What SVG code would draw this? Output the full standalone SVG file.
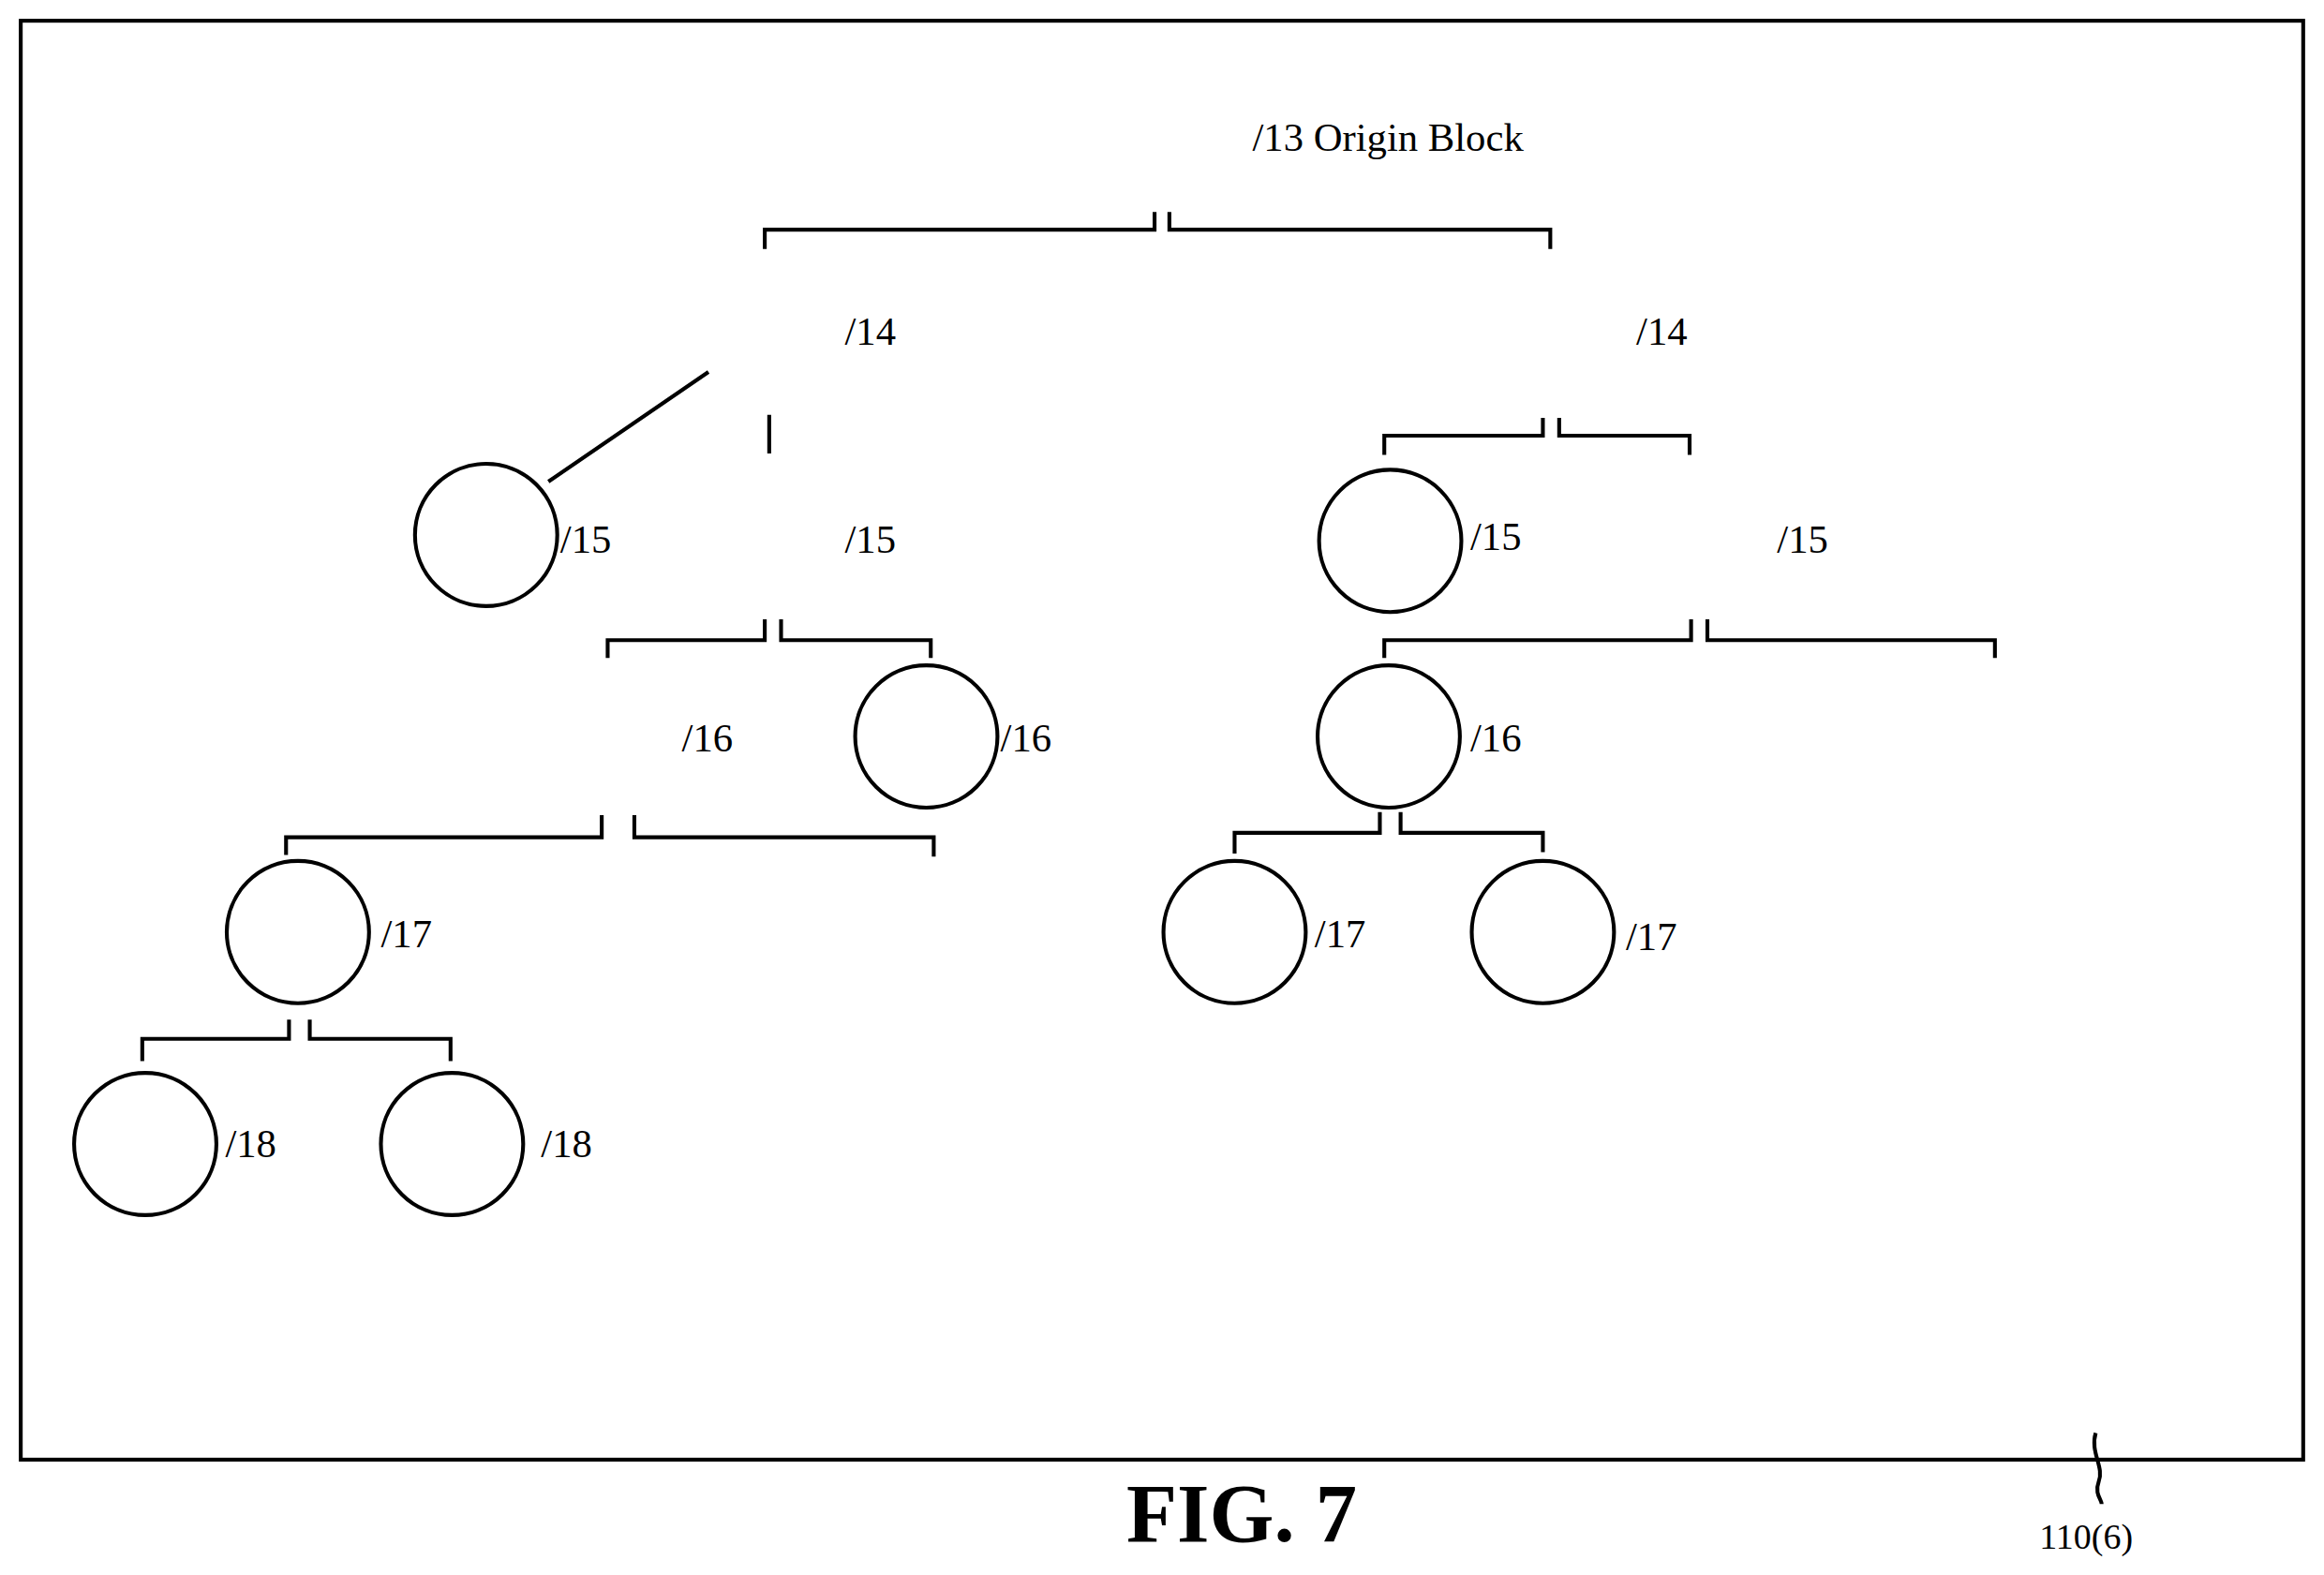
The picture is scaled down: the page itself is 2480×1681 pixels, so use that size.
<svg xmlns="http://www.w3.org/2000/svg" width="2480" height="1681" viewBox="0 0 2480 1681">
<style>
.l{fill:none;stroke:#000;stroke-width:2.6}
.c{fill:#fff;stroke:#000;stroke-width:2.6}
text{font-family:"Liberation Serif",serif;font-size:27px;fill:#000}
</style>
<rect width="2480" height="1681" fill="#fff"/>
<g transform="scale(1.5816)">
<rect x="14" y="14" width="1540" height="971" class="l"/>
<g id="connectors">
<path class="l" d="M516,168V155H779V143M789,143V155H1046V168"/>
<path class="l" d="M370,325L478,251M519,280V306"/>
<path class="l" d="M934,307V294H1041V282M1052,282V294H1140V307"/>
<path class="l" d="M410,444V432H516V418M527,418V432H628V444"/>
<path class="l" d="M934,444V432H1141V418M1152,418V432H1346V444"/>
<path class="l" d="M193,577V565H406V550M428,550V565H630V578"/>
<path class="l" d="M833,576V562H931V548M945,548V562H1041V575"/>
<path class="l" d="M96,716V701H195V688M209,688V701H304V716"/>
<path class="l" d="M1414,967C1410,980 1420,990 1416,1000C1413,1008 1418,1012 1418,1015"/>
</g>
<g id="n13"><text x="845" y="102">/13 Origin Block</text></g>
<g id="n14a"><text x="570" y="233">/14</text></g>
<g id="n14b"><text x="1104" y="233">/14</text></g>
<g id="n15a"><circle class="c" cx="328" cy="361" r="48"/><text x="378" y="373">/15</text></g>
<g id="n15b"><text x="570" y="373">/15</text></g>
<g id="n15c"><circle class="c" cx="938" cy="365" r="48"/><text x="992" y="371">/15</text></g>
<g id="n15d"><text x="1199" y="373">/15</text></g>
<g id="n16a"><text x="460" y="507">/16</text></g>
<g id="n16b"><circle class="c" cx="625" cy="497" r="48"/><text x="675" y="507">/16</text></g>
<g id="n16c"><circle class="c" cx="937" cy="497" r="48"/><text x="992" y="507">/16</text></g>
<g id="n17a"><circle class="c" cx="201" cy="629" r="48"/><text x="257" y="639">/17</text></g>
<g id="n17b"><circle class="c" cx="833" cy="629" r="48"/><text x="887" y="639">/17</text></g>
<g id="n17c"><circle class="c" cx="1041" cy="629" r="48"/><text x="1097" y="641">/17</text></g>
<g id="n18a"><circle class="c" cx="98" cy="772" r="48"/><text x="152" y="781">/18</text></g>
<g id="n18b"><circle class="c" cx="305" cy="772" r="48"/><text x="365" y="781">/18</text></g>
<text x="760" y="1040" style="font-size:56px;font-weight:bold">FIG. 7</text>
<text x="1376" y="1045" style="font-size:24px">110(6)</text>
</g>
</svg>
